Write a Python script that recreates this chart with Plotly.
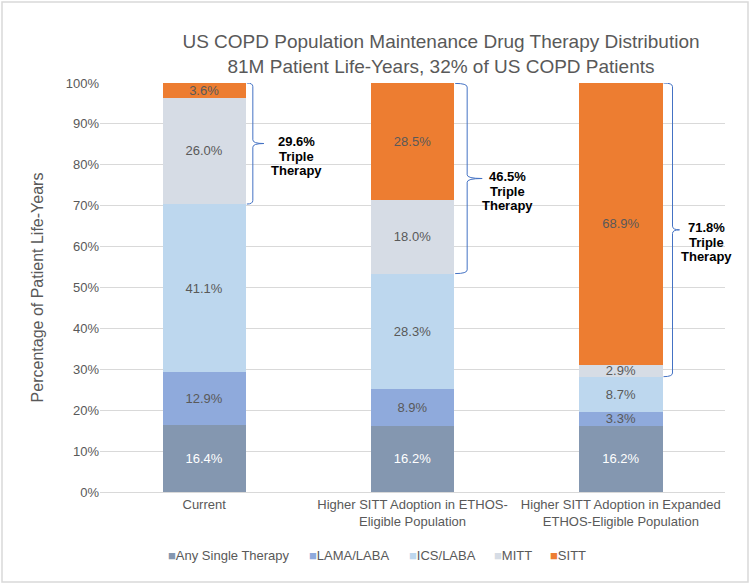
import plotly.graph_objects as go

categories = ["Current",
              "Higher SITT Adoption in ETHOS-<br>Eligible Population",
              "Higher SITT Adoption in Expanded<br>ETHOS-Eligible Population"]
series_names = ["Any Single Therapy", "LAMA/LABA", "ICS/LABA", "MITT", "SITT"]
any_single = [16.4, 16.2, 16.2]
lama_laba = [12.9, 8.9, 3.3]
ics_laba = [41.1, 28.3, 8.7]
mitt = [26.0, 18.0, 2.9]
sitt = [3.6, 28.5, 68.9]
triple_labels = ["29.6%", "46.5%", "71.8%"]
y_ticks = [0, 10, 20, 30, 40, 50, 60, 70, 80, 90, 100]

series_values = [any_single, lama_laba, ics_laba, mitt, sitt]
colors = ["#8497B0", "#8FAADC", "#BDD7EE", "#D6DCE5", "#ED7D31"]
text_colors = ["#FFFFFF", "#595959", "#595959", "#595959", "#595959"]
FONT = "Liberation Sans, Arial, sans-serif"

W, H = 750, 584
ML, MR, MT, MB = 100, 25, 83, 92
pw, ph = W - ML - MR, H - MT - MB
cat_px = pw / len(categories)

# brace styling (pixel offsets from bar right edge)
brace_line_px = [7, 13, 10]
brace_tip_px = [18, 28, 17]
brace_text_px = [51, 53, 44]

xs = list(range(len(categories)))
fig = go.Figure()
for name, vals, c, tc in zip(series_names, series_values, colors, text_colors):
    fig.add_trace(go.Bar(
        x=xs, y=vals, name=name, marker=dict(color=c, line=dict(width=0)),
        text=[f"{v:.1f}%" for v in vals], textposition="inside",
        insidetextanchor="middle", constraintext="none",
        textfont=dict(family=FONT, size=13, color=tc),
        hoverinfo="skip", showlegend=False,
    ))

half = 0.2
shapes = []
annotations = []
for i in xs:
    bottom = any_single[i] + lama_laba[i] + ics_laba[i]
    top = bottom + mitt[i] + sitt[i]
    mid = (top + bottom) / 2
    edge = i + half
    xl = edge + 1 / cat_px
    xv = edge + brace_line_px[i] / cat_px
    xt = edge + brace_tip_px[i] / cat_px
    r = 0.9
    path = (f"M {xl},{top} Q {xv},{top} {xv},{top - r} "
            f"L {xv},{mid + r} Q {xv},{mid} {xt},{mid} "
            f"Q {xv},{mid} {xv},{mid - r} "
            f"L {xv},{bottom + r} Q {xv},{bottom} {xl},{bottom}")
    shapes.append(dict(type="path", xref="x", yref="y", path=path,
                       line=dict(color="#4472C4", width=1)))
    lines = [triple_labels[i], "Triple", "Therapy"]
    for k, t in enumerate(lines):
        annotations.append(dict(
            x=edge + brace_text_px[i] / cat_px, y=mid, xref="x", yref="y",
            xanchor="center", yanchor="middle", showarrow=False,
            yshift=2 - 14.5 * k,
            text=f"<b>{t}</b>",
            font=dict(family=FONT, size=13, color="#000000"),
        ))

# compact legend, like the original
legend_x_px = [166, 307, 407, 492, 548]
for name, c, lx in zip(series_names, colors, legend_x_px):
    annotations.append(dict(
        x=(lx - ML) / pw, y=-(555 - MT - ph) / ph, xref="paper", yref="paper",
        xanchor="left", yanchor="middle", showarrow=False,
        text=f"<span style='color:{c}'>\u25A0</span>{name}",
        font=dict(family=FONT, size=13, color="#595959"),
    ))

# chart border
shapes.append(dict(type="rect", xref="paper", yref="paper",
                   x0=-(ML - 2) / pw, x1=1 + (MR - 2) / pw,
                   y0=-(MB - 2) / ph, y1=1 + (MT - 2) / ph,
                   line=dict(color="#D9D9D9", width=1.5), layer="below"))

fig.update_layout(
    width=W, height=H,
    margin=dict(l=ML, r=MR, t=MT, b=MB, autoexpand=False),
    barmode="stack", bargap=0.6,
    plot_bgcolor="white", paper_bgcolor="white",
    font=dict(family=FONT, color="#595959"),
    showlegend=False,
    title=dict(
        text="US COPD Population Maintenance Drug Therapy Distribution<br>81M Patient Life-Years, 32% of US COPD Patients",
        x=0.588, xanchor="center", xref="container",
        y=0.918, yanchor="top", yref="container",
        font=dict(family=FONT, size=19, color="#595959"),
    ),
    xaxis=dict(
        tickvals=xs, ticktext=categories, range=[-0.5, 2.5], automargin=False,
        showgrid=False, showline=True, linecolor="#D9D9D9", linewidth=1,
        ticks="", tickfont=dict(size=13, color="#595959"), zeroline=False,
    ),
    yaxis=dict(
        range=[0, 100], tickvals=y_ticks, ticktext=[f"{t}%" for t in y_ticks],
        automargin=False,
        showgrid=True, gridcolor="#D9D9D9", gridwidth=1, zeroline=False,
        ticks="", ticklen=0, tickfont=dict(size=13, color="#595959"),
        title=dict(text="Percentage of Patient Life-Years", standoff=18,
                   font=dict(size=16, color="#595959")),
    ),
    shapes=shapes, annotations=annotations,
)

fig.write_html("out.html", config={"displayModeBar": False},
               post_script="document.body.style.margin='0';")
